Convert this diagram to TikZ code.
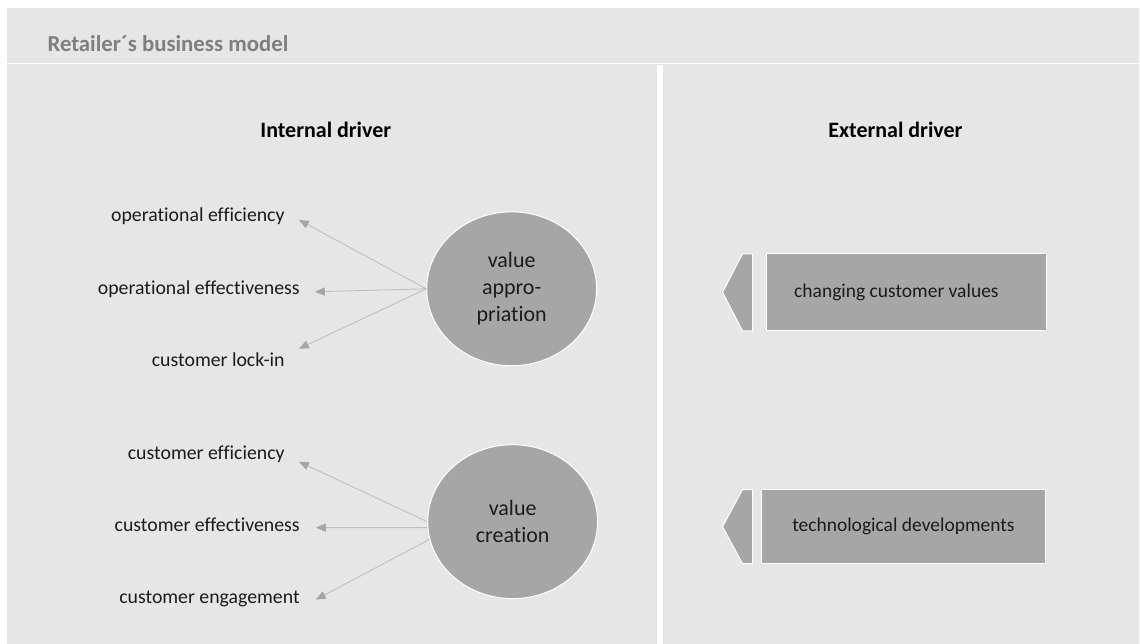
\documentclass[tikz,border=0pt]{standalone}
\usepackage{fontspec}
\setmainfont{Carlito}[Ligatures=NoCommon]
\usetikzlibrary{shapes.geometric,arrows.meta}
\definecolor{panelgray}{RGB}{230,230,230}
\definecolor{shapegray}{RGB}{166,166,166}
\definecolor{linegray}{RGB}{191,191,191}
\definecolor{titlegray}{RGB}{127,127,127}
\definecolor{textdark}{RGB}{28,28,28}

\begin{document}
\begin{tikzpicture}[x=1pt, y=-1pt,
  driver/.style={ellipse, draw=white, line width=1pt, fill=shapegray, minimum width=170pt, minimum height=154pt, inner sep=0pt, align=center, text=textdark, font=\fontsize{22}{27}\selectfont},
  item/.style={anchor=base east, inner xsep=0pt, text=textdark, font=\fontsize{19.8}{24}\selectfont},
  head/.style={anchor=base, text=black, font=\bfseries\fontsize{22}{26}\selectfont},
  extbox/.style={rectangle, draw=white, line width=1pt, fill=shapegray, inner sep=0pt, text=textdark, font=\fontsize{19.5}{23}\selectfont},
  exttext/.style={text=textdark, font=\fontsize{19.5}{23}\selectfont},
  link/.style={linegray, line width=0.9pt, -{Triangle[length=10pt,width=8pt,color=shapegray]}},
  notch/.style={fill=shapegray, draw=white, line width=1pt}]

\fill[white] (0,0) rectangle (1140,644);
\fill[panelgray] (7,8) rectangle (1140,644);
\draw[white, line width=1.5pt] (7,63.5) -- (1140,63.5);
\fill[white] (657,65) rectangle (663,644);

\node[anchor=base west, text=titlegray, font=\bfseries\fontsize{22.8}{27}\selectfont] (title) at (44,51.5) {Retailer´s business model};
\node[head] (intl) at (326,138) {Internal driver};
\node[head] (extl) at (896,138) {External driver};

\node[driver] (appr) at (512,289) {value\\appro-\\priation};
\node[driver] (crea) at (513,522) {value\\creation};

\node[item] (opeff) at (285,222) {operational efficiency};
\node[item] (opfct) at (300,295) {operational effectiveness};
\node[item] (lockin) at (285,367) {customer lock-in};
\node[item] (cueff) at (285,460) {customer efficiency};
\node[item] (cufct) at (300,532) {customer effectiveness};
\node[item] (cueng) at (300,604) {customer engagement};

\coordinate (t1) at (299,220);
\coordinate (t2) at (315,292);
\coordinate (t3) at (299,349);
\coordinate (t4) at (299,462);
\coordinate (t5) at (316,528);
\coordinate (t6) at (316,600);

\draw[link] (appr.west) -- (t1);
\draw[link] (appr.west) -- (t2);
\draw[link] (appr.west) -- (t3);
\draw[link] (crea.180) -- (t4);
\draw[link] (crea.184) -- (t5);
\draw[link] (crea.192) -- (t6);

\node[extbox, minimum width=280pt, minimum height=77pt] (vals) at (907,292.5) {};
\node[exttext] (valtxt) at ([xshift=-10pt]vals.center) {changing customer values};
\draw[notch] (753,254) -- (743,254) -- (723,292.5) -- (743,331) -- (753,331) -- cycle;

\node[extbox, minimum width=284pt, minimum height=74pt] (tech) at (904,527) {technological developments};
\draw[notch] (753,490) -- (743,490) -- (723,527) -- (743,564) -- (753,564) -- cycle;
\end{tikzpicture}
\end{document}
